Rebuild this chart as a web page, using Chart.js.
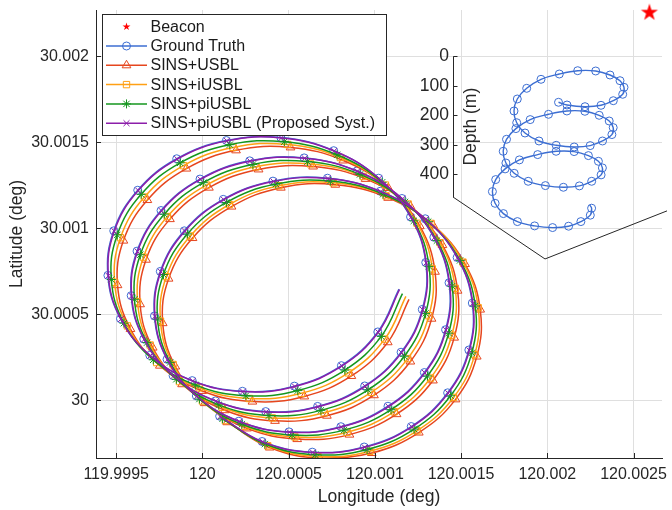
<!DOCTYPE html>
<html>
<head>
<meta charset="utf-8">
<script src="https://cdn.jsdelivr.net/npm/chart.js@4.4.1/dist/chart.umd.min.js"></script>
<style>
  html, body { margin: 0; padding: 0; background: #fff; }
  #wrap { position: relative; width: 672px; height: 510px; }
  #wrap canvas { position: absolute; left: 0; top: 0; }
  #inset { pointer-events: none; }
</style>
</head>
<body>
<div id="wrap">
  <canvas id="mainChart" width="672" height="510"></canvas>
  <canvas id="inset" width="672" height="510"></canvas>
</div>
<script>
// Tick values
const lonTicks = [119.9995, 120, 120.0005, 120.001, 120.0015, 120.002, 120.0025];
const latTicks = [30, 30.0005, 30.001, 30.0015, 30.002];
const depthTicks = [0, 100, 200, 300, 400];

const seriesNames = ['Beacon', 'Ground Truth', 'SINS+USBL', 'SINS+iUSBL', 'SINS+piUSBL', 'SINS+piUSBL (Proposed Syst.)'];

// Beacon position
const beaconLon = [120.002592];
const beaconLat = [30.002255];

// Ground truth track (deg)
const gtLon = [120.001140, 120.001017, 120.000806, 120.000533, 120.000232, 119.999941, 119.999695, 119.999525, 119.999452, 119.999486, 119.999625, 119.999851, 120.000139, 120.000455, 120.000761, 120.001022, 120.001207, 120.001295,
  120.001275, 120.001152, 120.000941, 120.000668, 120.000367, 120.000076, 119.999830, 119.999660, 119.999587, 119.999621, 119.999760, 119.999986, 120.000274, 120.000590, 120.000896, 120.001157, 120.001342, 120.001430,
  120.001410, 120.001287, 120.001076, 120.000803, 120.000502, 120.000211, 119.999965, 119.999795, 119.999722, 119.999756, 119.999895, 120.000121, 120.000409, 120.000725, 120.001031, 120.001292, 120.001477, 120.001565,
  120.001545, 120.001422, 120.001211, 120.000938, 120.000637, 120.000346, 120.000100];
const gtLat = [30.000647, 30.000398, 30.000202, 30.000083, 30.000053, 30.000115, 30.000262, 30.000475, 30.000727, 30.000986, 30.001222, 30.001405, 30.001511, 30.001528, 30.001452, 30.001292, 30.001067, 30.000802,
  30.000529, 30.000280, 30.000084, 29.999965, 29.999935, 29.999997, 30.000144, 30.000357, 30.000609, 30.000868, 30.001104, 30.001287, 30.001393, 30.001410, 30.001334, 30.001174, 30.000949, 30.000684,
  30.000411, 30.000162, 29.999966, 29.999847, 29.999817, 29.999879, 30.000026, 30.000239, 30.000491, 30.000750, 30.000986, 30.001169, 30.001275, 30.001292, 30.001216, 30.001056, 30.000831, 30.000566,
  30.000293, 30.000044, 29.999848, 29.999729, 29.999699, 29.999761, 29.999908];

// SINS+USBL
const usblLon = [120.001198, 120.001075, 120.000864, 120.000591, 120.000290, 119.999999, 119.999753, 119.999583, 119.999508, 119.999542, 119.999681, 119.999907, 120.000195, 120.000511, 120.000817, 120.001078, 120.001261, 120.001349,
  120.001329, 120.001206, 120.000995, 120.000722, 120.000421, 120.000130, 119.999882, 119.999712, 119.999639, 119.999673, 119.999812, 120.000038, 120.000326, 120.000642, 120.000946, 120.001207, 120.001392, 120.001480,
  120.001460, 120.001337, 120.001126, 120.000853, 120.000550, 120.000259, 120.000013, 119.999843, 119.999770, 119.999804, 119.999943, 120.000169, 120.000455, 120.000771, 120.001077, 120.001338, 120.001523, 120.001611,
  120.001591, 120.001468, 120.001255, 120.000982, 120.000681, 120.000390, 120.000144];
const usblLat = [30.000587, 30.000338, 30.000142, 30.000023, 29.999993, 30.000055, 30.000202, 30.000415, 30.000670, 30.000929, 30.001165, 30.001348, 30.001454, 30.001471, 30.001395, 30.001235, 30.001013, 30.000748,
  30.000475, 30.000226, 30.000030, 29.999911, 29.999881, 29.999943, 30.000094, 30.000307, 30.000559, 30.000818, 30.001054, 30.001237, 30.001343, 30.001360, 30.001288, 30.001128, 30.000903, 30.000638,
  30.000365, 30.000116, 29.999920, 29.999801, 29.999775, 29.999837, 29.999984, 30.000197, 30.000449, 30.000708, 30.000944, 30.001127, 30.001237, 30.001254, 30.001178, 30.001018, 30.000793, 30.000528,
  30.000255, 30.000006, 29.999813, 29.999694, 29.999664, 29.999726, 29.999873];

// SINS+iUSBL
const iusblLon = [120.001180, 120.001057, 120.000846, 120.000573, 120.000272, 119.999981, 119.999735, 119.999565, 119.999491, 119.999525, 119.999664, 119.999890, 120.000178, 120.000494, 120.000800, 120.001061, 120.001245, 120.001333,
  120.001313, 120.001190, 120.000979, 120.000706, 120.000405, 120.000114, 119.999867, 119.999697, 119.999624, 119.999658, 119.999797, 120.000023, 120.000311, 120.000627, 120.000932, 120.001193, 120.001378, 120.001466,
  120.001446, 120.001323, 120.001112, 120.000839, 120.000537, 120.000246, 120.000000, 119.999830, 119.999757, 119.999791, 119.999930, 120.000156, 120.000443, 120.000759, 120.001065, 120.001326, 120.001511, 120.001599,
  120.001579, 120.001456, 120.001244, 120.000971, 120.000670, 120.000379, 120.000133];
const iusblLat = [30.000605, 30.000356, 30.000160, 30.000041, 30.000011, 30.000073, 30.000220, 30.000433, 30.000687, 30.000946, 30.001182, 30.001365, 30.001471, 30.001488, 30.001412, 30.001252, 30.001030, 30.000765,
  30.000492, 30.000243, 30.000047, 29.999928, 29.999898, 29.999960, 30.000109, 30.000322, 30.000574, 30.000833, 30.001069, 30.001252, 30.001358, 30.001375, 30.001302, 30.001142, 30.000917, 30.000652,
  30.000379, 30.000130, 29.999934, 29.999815, 29.999787, 29.999849, 29.999996, 30.000209, 30.000461, 30.000720, 30.000956, 30.001139, 30.001248, 30.001265, 30.001189, 30.001029, 30.000804, 30.000539,
  30.000266, 30.000017, 29.999823, 29.999704, 29.999674, 29.999736, 29.999883];

// SINS+piUSBL
const piusblLon = [120.001160, 120.001037, 120.000826, 120.000553, 120.000252, 119.999961, 119.999715, 119.999545, 119.999472, 119.999506, 119.999645, 119.999871, 120.000159, 120.000475, 120.000781, 120.001042, 120.001226, 120.001314,
  120.001294, 120.001171, 120.000960, 120.000687, 120.000386, 120.000095, 119.999849, 119.999679, 119.999606, 119.999640, 119.999779, 120.000005, 120.000293, 120.000609, 120.000914, 120.001175, 120.001360, 120.001448,
  120.001428, 120.001305, 120.001094, 120.000821, 120.000520, 120.000229, 119.999983, 119.999813, 119.999740, 119.999774, 119.999913, 120.000139, 120.000426, 120.000742, 120.001048, 120.001309, 120.001494, 120.001582,
  120.001562, 120.001439, 120.001228, 120.000955, 120.000654, 120.000363, 120.000117];
const piusblLat = [30.000621, 30.000372, 30.000176, 30.000057, 30.000027, 30.000089, 30.000236, 30.000449, 30.000703, 30.000962, 30.001198, 30.001381, 30.001487, 30.001504, 30.001428, 30.001268, 30.001044, 30.000779,
  30.000506, 30.000257, 30.000061, 29.999942, 29.999912, 29.999974, 30.000123, 30.000336, 30.000588, 30.000847, 30.001083, 30.001266, 30.001372, 30.001389, 30.001314, 30.001154, 30.000929, 30.000664,
  30.000391, 30.000142, 29.999946, 29.999827, 29.999799, 29.999861, 30.000008, 30.000221, 30.000473, 30.000732, 30.000968, 30.001151, 30.001258, 30.001275, 30.001199, 30.001039, 30.000814, 30.000549,
  30.000276, 30.000027, 29.999833, 29.999714, 29.999684, 29.999746, 29.999893];

// SINS+piUSBL (proposed)
const proposedLon = [120.001143, 120.001020, 120.000809, 120.000536, 120.000235, 119.999944, 119.999698, 119.999528, 119.999455, 119.999489, 119.999628, 119.999854, 120.000142, 120.000458, 120.000764, 120.001025, 120.001210, 120.001298,
  120.001278, 120.001155, 120.000944, 120.000671, 120.000370, 120.000079, 119.999833, 119.999663, 119.999590, 119.999624, 119.999763, 119.999989, 120.000277, 120.000593, 120.000899, 120.001160, 120.001345, 120.001433,
  120.001413, 120.001290, 120.001079, 120.000806, 120.000505, 120.000214, 119.999968, 119.999798, 119.999725, 119.999759, 119.999898, 120.000124, 120.000412, 120.000728, 120.001034, 120.001295, 120.001480, 120.001568,
  120.001548, 120.001425, 120.001214, 120.000941, 120.000640, 120.000349, 120.000103];
const proposedLat = [30.000645, 30.000396, 30.000200, 30.000081, 30.000051, 30.000113, 30.000260, 30.000473, 30.000725, 30.000984, 30.001220, 30.001403, 30.001509, 30.001526, 30.001450, 30.001290, 30.001065, 30.000800,
  30.000527, 30.000278, 30.000082, 29.999963, 29.999933, 29.999995, 30.000142, 30.000355, 30.000607, 30.000866, 30.001102, 30.001285, 30.001391, 30.001408, 30.001332, 30.001172, 30.000947, 30.000682,
  30.000409, 30.000160, 29.999964, 29.999845, 29.999815, 29.999877, 30.000024, 30.000237, 30.000489, 30.000748, 30.000984, 30.001167, 30.001273, 30.001290, 30.001214, 30.001054, 30.000829, 30.000564,
  30.000291, 30.000042, 29.999846, 29.999727, 29.999697, 29.999759, 29.999906];

// Inset: 3D view of the ground truth (projected horizontal, depth in m)
const insetH = [105.5, 114.0, 132.0, 148.0, 160.3, 169.7, 171.0, 167.0, 157.0, 142.7, 124.7, 106.3, 88.0, 73.7, 64.3, 61.0, 63.7, 72.0,
  86.0, 103.2, 121.2, 137.2, 149.5, 158.9, 160.2, 156.2, 146.2, 131.9, 113.9, 95.5, 77.2, 62.9, 53.5, 50.2, 52.9, 61.2,
  75.2, 92.4, 110.4, 126.4, 138.7, 148.1, 149.4, 145.4, 135.4, 121.1, 103.1, 84.7, 66.4, 52.1, 42.7, 39.4, 42.1, 50.4,
  64.4, 81.6, 99.6, 115.6, 127.9, 137.3, 138.6, 136.6];
const insetDepth = [155.9, 165.1, 170.8, 166.1, 150.5, 128.8, 105.1, 82.7, 63.4, 49.8, 48.8, 60.0, 78.0, 108.5, 144.7, 185.4, 225.1, 260.0,
  287.1, 301.7, 307.4, 302.7, 287.1, 265.4, 241.7, 219.3, 200.0, 186.4, 185.4, 196.6, 214.6, 245.1, 281.3, 322.0, 361.7, 396.6,
  423.7, 438.3, 444.0, 439.3, 423.7, 402.0, 378.3, 355.9, 336.6, 323.0, 322.0, 333.2, 351.2, 381.7, 417.9, 458.6, 498.3, 533.2,
  560.3, 574.9, 580.6, 575.9, 560.3, 538.6, 514.9, 504.0];
const insetBoxH = [0, 92, 214];
const insetBoxDepth = [477, 687, 524];
const insetAxisDepth = [0, 477];

const textColor = '#262626';
const axisColor = '#262626';
const gridColor = '#dfdfdf';
const fontFamily = '"Liberation Sans", Arial, Helvetica, sans-serif';

Chart.defaults.font.family = fontFamily;
Chart.defaults.color = textColor;

const styles = [
  { color: '#ff0000', marker: 'beacon', radius: 9 },
  { color: '#3c6ed2', marker: 'circle', radius: 4 },
  { color: '#e6461e', marker: 'triangle', radius: 5 },
  { color: '#ffa014', marker: 'rect', radius: 4.5 },
  { color: '#14961e', marker: 'star', radius: 4.5 },
  { color: '#8c1eaa', marker: 'crossRot', radius: 4.2 }
];

function toPoints(xs, ys) {
  return xs.map((x, i) => ({ x: x, y: ys[i] }));
}

function fmt(v) {
  return String(Number(v.toFixed(4)));
}

// scale padding from end labels is not wanted, the ticks sit inside the axes
function noEdgePadding(s) {
  s.paddingTop = 0;
  s.paddingBottom = 0;
  s.paddingLeft = 0;
  s.paddingRight = 0;
}

function starPath(ctx, cx, cy, r) {
  ctx.beginPath();
  for (let i = 0; i < 10; i++) {
    const a = -Math.PI / 2 + i * Math.PI / 5;
    const rr = i % 2 ? r * 0.382 : r;
    ctx.lineTo(cx + rr * Math.cos(a), cy + rr * Math.sin(a));
  }
  ctx.closePath();
}

// filled pentagram used as the beacon marker
const starImg = document.createElement('canvas');
starImg.width = 20;
starImg.height = 20;
const sctx = starImg.getContext('2d');
sctx.fillStyle = styles[0].color;
starPath(sctx, 10, 10, 9);
sctx.fill();

const tracks = [
  [gtLon, gtLat],
  [usblLon, usblLat],
  [iusblLon, iusblLat],
  [piusblLon, piusblLat],
  [proposedLon, proposedLat]
];
// draw order: ground truth at the bottom, proposed on top
const drawOrder = [5, 4, 3, 2, 1];

const datasets = [{
  label: seriesNames[0],
  data: toPoints(beaconLon, beaconLat),
  pointStyle: starImg,
  pointRadius: 9,
  showLine: false,
  clip: false,
  order: 0
}];

tracks.forEach((t, i) => {
  const st = styles[i + 1];
  datasets.push({
    label: seriesNames[i + 1],
    data: toPoints(t[0], t[1]),
    showLine: true,
    tension: 0.4,
    borderColor: st.color,
    borderWidth: 1.5,
    pointStyle: st.marker,
    pointRadius: c => (c.dataIndex === 0 ? 0 : st.radius),
    pointBorderColor: st.color,
    pointBackgroundColor: 'rgba(0,0,0,0)',
    pointBorderWidth: 1,
    order: drawOrder[i]
  });
});

// MATLAB style ticks pointing into the plot
const innerTicks = {
  id: 'innerTicks',
  afterDraw(chart) {
    const ctx = chart.ctx;
    const a = chart.chartArea;
    const xs = chart.scales.x;
    const ys = chart.scales.y;
    ctx.save();
    ctx.strokeStyle = axisColor;
    ctx.lineWidth = 1;
    ctx.beginPath();
    xs.ticks.forEach(t => {
      const px = Math.round(xs.getPixelForValue(t.value)) + 0.5;
      ctx.moveTo(px, a.bottom);
      ctx.lineTo(px, a.bottom - 5);
    });
    ys.ticks.forEach(t => {
      const py = Math.round(ys.getPixelForValue(t.value)) + 0.5;
      ctx.moveTo(a.left, py);
      ctx.lineTo(a.left + 5, py);
    });
    ctx.stroke();
    ctx.restore();
  }
};

// boxed legend in the upper left corner of the axes
const legendBox = {
  id: 'legendBox',
  afterDatasetsDraw(chart) {
    const ctx = chart.ctx;
    const a = chart.chartArea;
    const x0 = Math.round(a.left + 6) + 0.5;
    const y0 = Math.round(a.top + 4) + 0.5;
    const w = 284;
    const h = 121;
    ctx.save();
    ctx.fillStyle = '#fff';
    ctx.fillRect(x0, y0, w, h);
    ctx.strokeStyle = axisColor;
    ctx.lineWidth = 1;
    ctx.strokeRect(x0, y0, w, h);
    ctx.font = '16px ' + fontFamily;
    ctx.textBaseline = 'middle';
    chart.data.datasets.forEach((ds, i) => {
      const st = styles[i];
      const y = y0 + 12.2 + i * 19.3;
      const mx = x0 + 24;
      if (ds.showLine) {
        ctx.strokeStyle = st.color;
        ctx.lineWidth = 1.5;
        ctx.beginPath();
        ctx.moveTo(x0 + 3.5, y);
        ctx.lineTo(x0 + 44.5, y);
        ctx.stroke();
      }
      if (st.marker === 'beacon') {
        ctx.fillStyle = st.color;
        starPath(ctx, mx, y, 4.2);
        ctx.fill();
      } else {
        ctx.strokeStyle = st.color;
        ctx.fillStyle = 'rgba(0,0,0,0)';
        ctx.lineWidth = 1;
        Chart.helpers.drawPoint(ctx, { pointStyle: st.marker, radius: st.radius, borderWidth: 1, rotation: 0 }, mx, y);
      }
      ctx.fillStyle = '#1a1a1a';
      ctx.fillText(ds.label, x0 + 48, y + 0.5);
    });
    ctx.restore();
  }
};

new Chart(document.getElementById('mainChart'), {
  type: 'scatter',
  data: { datasets: datasets },
  options: {
    responsive: false,
    animation: false,
    events: [],
    layout: { padding: { top: 5, right: 5, left: 0, bottom: 0 } },
    plugins: { legend: { display: false }, tooltip: { enabled: false } },
    scales: {
      x: {
        min: 119.999383,
        max: 120.002665,
        afterBuildTicks: s => { s.ticks = lonTicks.map(v => ({ value: v })); },
        afterFit: s => { s.height = 52; noEdgePadding(s); },
        ticks: { autoSkip: false, maxRotation: 0, padding: 7, color: textColor, font: { size: 16 }, callback: v => fmt(v) },
        grid: { color: gridColor, drawTicks: false },
        border: { color: axisColor, width: 1 },
        title: { display: true, text: 'Longitude (deg)', color: textColor, font: { size: 17.5 }, padding: { top: 0, bottom: 2.5 } }
      },
      y: {
        min: 29.999665,
        max: 30.00227,
        afterBuildTicks: s => { s.ticks = latTicks.map(v => ({ value: v })); },
        afterFit: s => { s.width = 96; noEdgePadding(s); },
        ticks: { autoSkip: false, padding: 7, color: textColor, font: { size: 16 }, callback: v => fmt(v) },
        grid: { color: gridColor, drawTicks: false },
        border: { color: axisColor, width: 1 },
        title: { display: true, text: 'Latitude (deg)', color: textColor, font: { size: 17.5 }, padding: { top: 6.5, bottom: 0 } }
      }
    }
  },
  plugins: [innerTicks, legendBox]
});

// inset decorations: depth axis line, ticks and its label
const insetDecor = {
  id: 'insetDecor',
  beforeDatasetsDraw(chart) {
    const ctx = chart.ctx;
    const a = chart.chartArea;
    const ys = chart.scales.y;
    const xl = Math.round(a.left) + 0.5;
    ctx.save();
    ctx.strokeStyle = axisColor;
    ctx.lineWidth = 1;
    ctx.beginPath();
    ctx.moveTo(xl, ys.getPixelForValue(insetAxisDepth[0]));
    ctx.lineTo(xl, ys.getPixelForValue(insetAxisDepth[1]));
    ys.ticks.forEach(t => {
      const py = Math.round(ys.getPixelForValue(t.value)) + 0.5;
      ctx.moveTo(xl, py);
      ctx.lineTo(xl + 4, py);
    });
    ctx.stroke();
    const mid = (ys.getPixelForValue(insetAxisDepth[0]) + ys.getPixelForValue(insetAxisDepth[1])) / 2;
    ctx.translate(a.left + 18, mid);
    ctx.rotate(-Math.PI / 2);
    ctx.fillStyle = textColor;
    ctx.font = '17.5px ' + fontFamily;
    ctx.textAlign = 'center';
    ctx.textBaseline = 'middle';
    ctx.fillText('Depth (m)', 0, 0);
    ctx.restore();
  }
};

new Chart(document.getElementById('inset'), {
  type: 'scatter',
  data: {
    datasets: [{
      label: seriesNames[1],
      data: toPoints(insetH, insetDepth),
      showLine: true,
      tension: 0.4,
      borderColor: styles[1].color,
      borderWidth: 1.4,
      pointStyle: 'circle',
      pointRadius: c => (c.dataIndex === insetH.length - 1 ? 0 : 4),
      pointBorderColor: styles[1].color,
      pointBackgroundColor: 'rgba(0,0,0,0)',
      pointBorderWidth: 1,
      clip: false
    }, {
      label: 'box',
      data: toPoints(insetBoxH, insetBoxDepth),
      showLine: true,
      tension: 0,
      borderColor: axisColor,
      borderWidth: 1,
      pointRadius: 0,
      clip: false
    }]
  },
  options: {
    responsive: false,
    animation: false,
    events: [],
    layout: { padding: { left: 413, top: 56.3, right: 5, bottom: 247.2 } },
    plugins: { legend: { display: false }, tooltip: { enabled: false } },
    scales: {
      x: { display: false, min: 0, max: 214 },
      y: {
        reverse: true,
        min: 0,
        max: 700,
        afterBuildTicks: s => { s.ticks = depthTicks.map(v => ({ value: v })); },
        afterFit: s => { s.width = 40; },
        ticks: { autoSkip: false, padding: 4, color: textColor, font: { size: 17.5 } },
        grid: { display: false, drawTicks: false },
        border: { display: false }
      }
    }
  },
  plugins: [insetDecor]
});
</script>
</body>
</html>
